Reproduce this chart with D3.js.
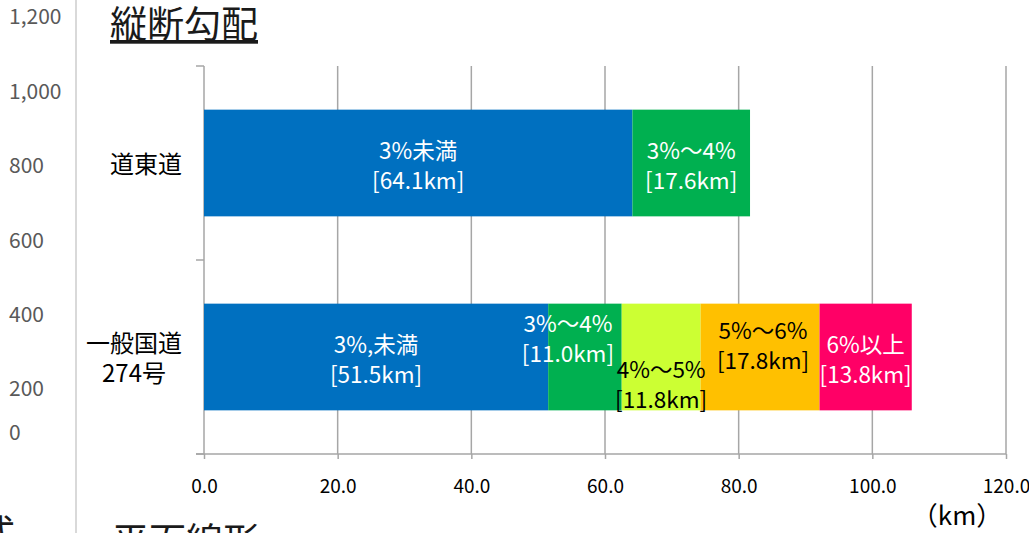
<!DOCTYPE html>
<html><head><meta charset="utf-8">
<script src="https://cdn.jsdelivr.net/npm/d3@7"></script>
<style>
html,body{margin:0;padding:0;background:#fff;overflow:hidden}
text{font-family:"Noto Sans CJK JP","Noto Sans",sans-serif}
</style></head>
<body><svg id="c" width="1029" height="533"></svg>
<script>
// ---- data ----
const categories = ["道東道", "一般国道274号"];
const categoryLines = [["道東道"], ["一般国道", "274号"]];
const segmentNames = [["3%未満", "3%～4%"], ["3%,未満", "3%～4%", "4%～5%", "5%～6%", "6%以上"]];
const segmentValues = [[64.1, 17.6], [51.5, 11.0, 11.8, 17.8, 13.8]];
const xTicks = [0, 20, 40, 60, 80, 100, 120];
const strayTickLabels = ["1,200", "1,000", "800", "600", "400", "200", "0"];

// ---- styles / layout ----
const segColors = [["#0070C0", "#00B050"], ["#0070C0", "#00B050", "#CCFF33", "#FFC000", "#FF0066"]];
const segTextColors = [["#fff", "#fff"], ["#fff", "#fff", "#000", "#000", "#fff"]];
const labelOffsets = [[[0, 0], [0, 0]], [[0, 0], [-17, -21], [0, 25], [3, -14], [0, 0]]];
const strayY = [15, 90, 164, 239, 313, 387, 431];

const svg = d3.select("#c");
const x = d3.scaleLinear().domain([0, 120]).range([204, 1006]);
const y = d3.scaleBand().domain(categories).range([66, 454]).paddingInner(0.45).paddingOuter(0.225);
const step = y.step();

// stray fragments from neighbouring charts
svg.append("line").attr("x1", 76).attr("x2", 76).attr("y1", 0).attr("y2", 533)
  .attr("stroke", "#d9d9d9").attr("stroke-width", 2);
svg.selectAll(".stray").data(strayTickLabels).join("text")
  .attr("x", 9).attr("y", (d, i) => strayY[i]).attr("dominant-baseline", "central")
  .attr("font-size", 21).attr("fill", "#595959").text(d => d);
svg.append("text").attr("x", -22).attr("y", 547).attr("font-size", 37).attr("fill", "#1a1a1a").text("式");
svg.append("text").attr("x", 112).attr("y", 555).attr("font-size", 37).attr("fill", "#1a1a1a").text("平面線形");

// title
svg.append("text").attr("x", 110).attr("y", 38).attr("font-size", 37)
  .attr("fill", "#1a1a1a").attr("text-decoration", "underline").text("縦断勾配");

// gridlines
svg.append("g").selectAll("line").data(xTicks.filter(d => d > 0)).join("line")
  .attr("x1", d => x(d)).attr("x2", d => x(d)).attr("y1", 66).attr("y2", 454)
  .attr("stroke", "#a6a6a6").attr("stroke-width", 1.5);

// x axis
const xAxis = svg.append("g").attr("transform", "translate(0,454)")
  .call(d3.axisBottom(x).tickValues(xTicks).tickFormat(d3.format(".1f")).tickSize(5).tickPadding(21));
xAxis.select(".domain").attr("stroke", "#a6a6a6").attr("stroke-width", 1.5).attr("d", "M196,0H1006");
xAxis.selectAll(".tick line").attr("stroke", "#a6a6a6").attr("stroke-width", 1.5);
xAxis.selectAll(".tick text").attr("font-size", 19).attr("fill", "#000")
  .attr("font-family", "'Noto Sans CJK JP','Noto Sans',sans-serif");

// category axis
const bounds = categories.map(c => y(c) - (step - y.bandwidth()) / 2).concat([454]);
svg.append("line").attr("x1", 204).attr("x2", 204).attr("y1", 66).attr("y2", 454)
  .attr("stroke", "#a6a6a6").attr("stroke-width", 1.5);
svg.append("g").selectAll("line").data(bounds).join("line")
  .attr("x1", 196).attr("x2", 204).attr("y1", d => d).attr("y2", d => d)
  .attr("stroke", "#a6a6a6").attr("stroke-width", 1.5);

// bars
categories.forEach((cat, ci) => {
  let acc = 0;
  const segs = segmentValues[ci].map((v, si) => { const s = { start: acc, end: acc + v, v, si }; acc += v; return s; });
  const g = svg.append("g");
  g.selectAll("rect").data(segs).join("rect")
    .attr("x", d => x(d.start)).attr("width", d => x(d.end) - x(d.start))
    .attr("y", y(cat)).attr("height", y.bandwidth())
    .attr("fill", d => segColors[ci][d.si]);
  const cy = y(cat) + y.bandwidth() / 2;
  segs.forEach(d => {
    const off = labelOffsets[ci][d.si];
    const cx = (x(d.start) + x(d.end)) / 2 + off[0];
    const t = g.append("text").attr("text-anchor", "middle").attr("font-size", 22.5)
      .attr("fill", segTextColors[ci][d.si]);
    t.append("tspan").attr("x", cx).attr("y", cy + off[1] - 14).attr("dominant-baseline", "central")
      .text(segmentNames[ci][d.si]);
    t.append("tspan").attr("x", cx).attr("y", cy + off[1] + 16).attr("dominant-baseline", "central")
      .text("[" + d3.format(".1f")(d.v) + "km]");
  });
  // category label
  const lines = categoryLines[ci];
  const fs = 24;
  const lt = svg.append("text").attr("font-size", fs).attr("fill", "#000").attr("text-anchor", "middle");
  const tmp = lines.map(l => { const s = svg.append("text").attr("font-size", fs).text(l); const w = s.node().getComputedTextLength(); s.remove(); return w; });
  const maxW = d3.max(tmp);
  const lx = 182 - maxW / 2;
  const lh = 30;
  lines.forEach((l, li) => {
    lt.append("tspan").attr("x", lx).attr("y", cy - (lines.length - 1) * lh / 2 + li * lh - 1)
      .attr("dominant-baseline", "central").text(l);
  });
});

// unit label
svg.append("text").attr("x", 957).attr("y", 513).attr("text-anchor", "middle")
  .attr("dominant-baseline", "central").attr("font-size", 26).attr("fill", "#000").text("（km）");
</script></body></html>
